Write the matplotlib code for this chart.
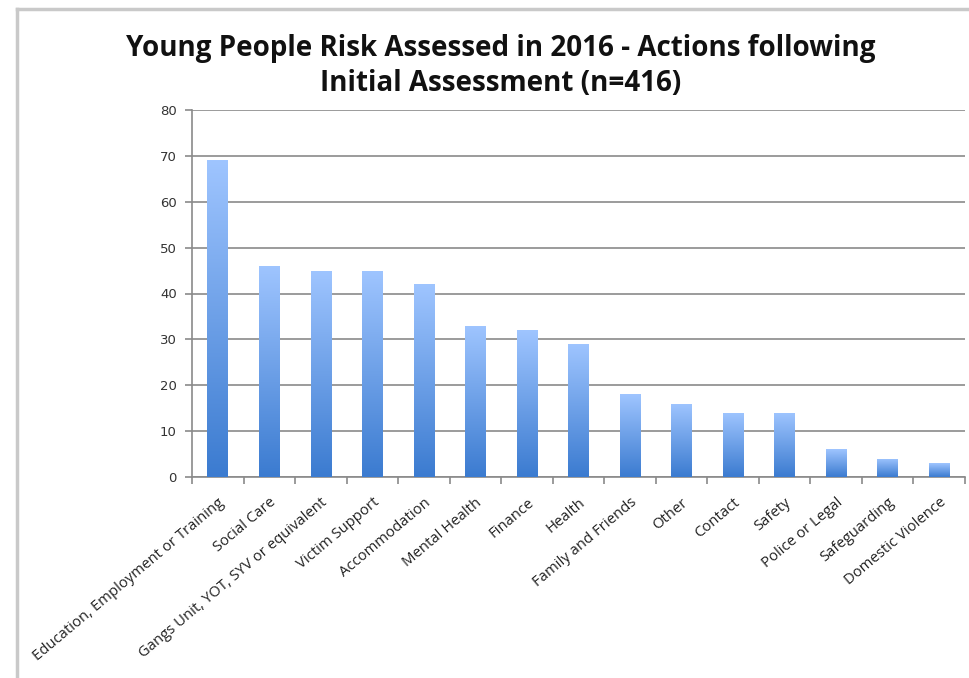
import numpy as np
import matplotlib
matplotlib.use("Agg")
import matplotlib.pyplot as plt
from matplotlib.colors import LinearSegmentedColormap
from matplotlib.lines import Line2D

categories = [
    "Education, Employment or Training",
    "Social Care",
    "Gangs Unit, YOT, SYV or equivalent",
    "Victim Support",
    "Accommodation",
    "Mental Health",
    "Finance",
    "Health",
    "Family and Friends",
    "Other",
    "Contact",
    "Safety",
    "Police or Legal",
    "Safeguarding",
    "Domestic Violence",
]
counts = [69, 46, 45, 45, 42, 33, 32, 29, 18, 16, 14, 14, 6, 4, 3]
title = "Young People Risk Assessed in 2016 - Actions following\nInitial Assessment (n=416)"

fig = plt.figure(figsize=(9.7, 6.78), dpi=100)
ax = fig.add_axes([192 / 970, 1 - 477 / 678, (965 - 192) / 970, (477 - 110) / 678])

x = np.arange(len(categories))
bars = ax.bar(x, counts, width=0.40, color="none", edgecolor="none", zorder=3)

# vertical blue gradient, dark at the base, light at the top
cmap = LinearSegmentedColormap.from_list("bluegrad", ["#3b7bd0", "#9fc5ff"])
grad = np.linspace(0, 1, 256).reshape(-1, 1)
for b in bars:
    x0, w, h = b.get_x(), b.get_width(), b.get_height()
    im = ax.imshow(grad, cmap=cmap, origin="lower", aspect="auto",
                   extent=[x0, x0 + w, 0, h], zorder=3)
    im.set_clip_path(b)

ax.set_xlim(-0.5, len(categories) - 0.5)
ax.set_ylim(0, 80)
ax.set_yticks(np.arange(0, 81, 10))
ax.yaxis.grid(True, color="#8a8a8a", linewidth=1.2, zorder=0)
ax.set_axisbelow(True)

for s in ["top", "right"]:
    ax.spines[s].set_visible(False)
for s in ["left", "bottom"]:
    ax.spines[s].set_color("#8a8a8a")
    ax.spines[s].set_linewidth(1.2)

ax.set_xticks(x)
ax.set_xticklabels(categories, rotation=40, ha="right", va="top",
                   rotation_mode="anchor", fontsize=10.7, family="Open Sans",
                   color="#222222")
ax.set_xticks(np.arange(-0.5, len(categories)), minor=True)
ax.tick_params(axis="x", which="major", length=0, pad=13)
ax.tick_params(axis="x", which="minor", length=5, color="#8a8a8a", width=1.2)
ax.tick_params(axis="y", length=5, color="#8a8a8a", width=1.2, labelsize=9.5,
               labelcolor="#333333", pad=6)
for lab in ax.get_yticklabels():
    lab.set_family("DejaVu Sans")

fig.text(0.516, 0.950, title, ha="center", va="top", fontsize=20,
         fontweight="bold", family="Open Sans", linespacing=1.28, color="#111111")

# outer frame on top and left
fig.add_artist(Line2D([17 / 970, 1], [1 - 9 / 678, 1 - 9 / 678],
                      color="#c9c9c9", linewidth=2.5))
fig.add_artist(Line2D([17 / 970, 17 / 970], [0, 1 - 9 / 678],
                      color="#c9c9c9", linewidth=2.5))

fig.savefig("out.png", dpi=100)
